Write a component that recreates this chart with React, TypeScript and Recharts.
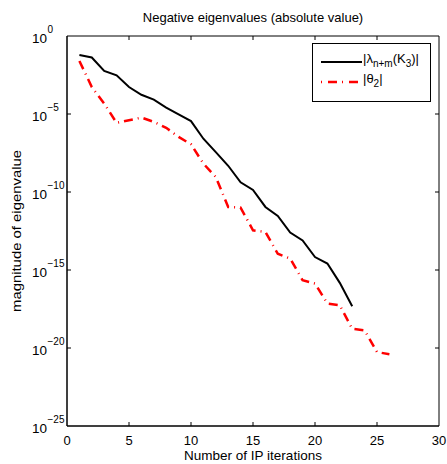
import { LineChart, Line, XAxis, YAxis, ReferenceArea, Legend } from "recharts";

const iterations = [1, 2, 3, 4, 5, 6, 7, 8, 9, 10, 11, 12, 13, 14, 15, 16, 17, 18, 19, 20, 21, 22, 23, 24, 25, 26];

// |lambda_{n+m}(K3)|
const lambdaAbs = [
  6.0e-2, 4.2e-2, 5.8e-3, 3.0e-3, 5.4e-4, 1.7e-4, 8.3e-5, 2.6e-5, 9.5e-6, 3.5e-6,
  2.6e-7, 3.6e-8, 4.8e-9, 4.2e-10, 1.35e-10, 1.1e-11, 2.9e-12, 2.5e-13, 7.9e-14, 6.8e-15,
  2.6e-15, 1.5e-16, 4.7e-18,
];

// |theta_2|
const thetaAbs = [
  2.5e-2, 5.4e-4, 4.7e-5, 2.7e-6, 4.0e-6, 5.9e-6, 3.1e-6, 1.3e-6, 3.4e-7, 1.15e-7,
  6.6e-9, 9.1e-10, 1.1e-11, 1.0e-11, 3.5e-13, 2.75e-13, 1.1e-14, 5.4e-15, 2.2e-16, 1.35e-16,
  7.1e-18, 5.5e-18, 1.7e-19, 1.35e-19, 5.5e-21, 4.0e-21,
];

const xTicks = [0, 5, 10, 15, 20, 25, 30];
const yTicks = [1e-25, 1e-20, 1e-15, 1e-10, 1e-5, 1];

const data = iterations.map((it, i) => ({
  it,
  lambda: lambdaAbs[i],
  theta: thetaAbs[i],
}));

const FONT = '"Liberation Sans", Arial, Helvetica, sans-serif';
const PLOT_W = 372;
const PLOT_H = 390;

function XTick({ x, y, payload }: any) {
  const v = payload.value;
  const edge = v === 0 || v === 30;
  return (
    <g>
      {!edge && <line x1={x} y1={y} x2={x} y2={y - 4} stroke="#000" />}
      {!edge && <line x1={x} y1={y - PLOT_H} x2={x} y2={y - PLOT_H + 4} stroke="#000" />}
      <text x={x} y={y + 19} textAnchor="middle" fontSize={13} fontFamily={FONT} fill="#000">
        {v}
      </text>
    </g>
  );
}

function YTick({ x, y, payload }: any) {
  const exp = Math.round(Math.log10(payload.value));
  const edge = exp === 0 || exp === -25;
  return (
    <g>
      {!edge && <line x1={x} y1={y} x2={x + 4} y2={y} stroke="#000" />}
      {!edge && <line x1={x + PLOT_W} y1={y} x2={x + PLOT_W - 4} y2={y} stroke="#000" />}
      <text x={x - 20} y={y + 7} textAnchor="end" fontSize={13.5} fontFamily={FONT} fill="#000">
        10
      </text>
      <text x={x - 19.5} y={y - 3} textAnchor="start" fontSize={10} fontFamily={FONT} fill="#000">
        {exp === 0 ? "0" : "\u2212" + Math.abs(exp)}
      </text>
    </g>
  );
}

function LegendBox() {
  return (
    <div
      style={{
        width: 119,
        height: 59,
        border: "1px solid #000",
        background: "#fff",
        fontFamily: FONT,
        fontSize: 13,
        color: "#000",
        boxSizing: "border-box",
        position: "relative",
      }}
    >
      <svg width={44} height={58} style={{ position: "absolute", left: 6, top: 0 }}>
        <line x1={2} y1={18} x2={43} y2={18} stroke="#000" strokeWidth={2} />
        <line x1={2} y1={38} x2={43} y2={38} stroke="#ff0000" strokeWidth={2.5} strokeDasharray="1 6 9 5" />
      </svg>
      <div style={{ position: "absolute", left: 50, top: 7, whiteSpace: "nowrap", lineHeight: "15px" }}>
        |λ<sub style={{ fontSize: 10, verticalAlign: "-4px" }}>n+m</sub>(K
        <sub style={{ fontSize: 10, verticalAlign: "-4px" }}>3</sub>)|
      </div>
      <div style={{ position: "absolute", left: 50, top: 27, whiteSpace: "nowrap", lineHeight: "15px" }}>
        |θ<sub style={{ fontSize: 10, verticalAlign: "-4px" }}>2</sub>|
      </div>
    </div>
  );
}

export default function App() {
  return (
    <div style={{ position: "absolute", left: 0, top: 0, width: 447, height: 464, background: "#fff" }}>
      <div
        style={{
          position: "absolute",
          left: 67,
          width: PLOT_W,
          top: 10,
          lineHeight: "15px",
          textAlign: "center",
          fontFamily: FONT,
          fontSize: 13,
          color: "#000",
        }}
      >
        Negative eigenvalues (absolute value)
      </div>
      <LineChart width={447} height={464} data={data} margin={{ top: 36, right: 8, bottom: 0, left: 0 }}>
        <XAxis
          dataKey="it"
          type="number"
          domain={[0, 30]}
          ticks={xTicks}
          tick={<XTick />}
          tickLine={false}
          tickSize={0}
          tickMargin={0}
          height={38}
          axisLine={{ stroke: "#000" }}
          interval={0}
          label={{
            value: "Number of IP iterations",
            position: "insideBottom",
            offset: 4,
            style: { fontFamily: FONT, fontSize: 13.5, fill: "#000" },
          }}
        />
        <YAxis
          type="number"
          scale="log"
          domain={[1e-25, 1]}
          allowDataOverflow
          ticks={yTicks}
          tick={<YTick />}
          tickLine={false}
          tickSize={0}
          tickMargin={0}
          width={67}
          axisLine={{ stroke: "#000" }}
          interval={0}
          label={({ viewBox }: any) => (
            <text
              x={0}
              y={0}
              transform={`translate(${viewBox.x + 21}, ${viewBox.y + viewBox.height / 2}) rotate(-90)`}
              textAnchor="middle"
              fontFamily={FONT}
              fontSize={13.5}
              textLength={162}
              lengthAdjust="spacingAndGlyphs"
              fill="#000"
            >
              magnitude of eigenvalue
            </text>
          )}
        />
        <ReferenceArea x1={0} x2={30} y1={1e-25} y2={1} fill="none" stroke="#000" strokeWidth={1} ifOverflow="visible" />
        <Legend
          layout="vertical"
          align="center"
          verticalAlign="middle"
          wrapperStyle={{ left: 312, top: 43, width: 119 }}
          content={() => <LegendBox />}
        />
        <Line
          dataKey="lambda"
          type="linear"
          stroke="#000"
          strokeWidth={2}
          dot={false}
          isAnimationActive={false}
        />
        <Line
          dataKey="theta"
          type="linear"
          stroke="#ff0000"
          strokeWidth={2.5}
          strokeDasharray="9 5 1 5"
          dot={false}
          isAnimationActive={false}
        />
      </LineChart>
    </div>
  );
}
